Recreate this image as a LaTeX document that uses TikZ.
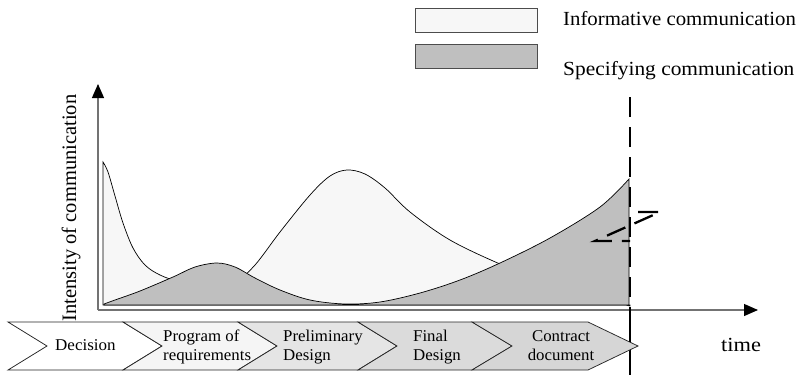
\documentclass[tikz,border=0pt]{standalone}
\usepackage{fontspec}
\setmainfont{Liberation Serif}
\usetikzlibrary{arrows.meta}
\newcommand{\widetext}[2]{\scalebox{#1}[1]{\begin{tabular}{@{}l@{}}#2\end{tabular}}}
\newcommand{\widectext}[2]{\scalebox{#1}[1]{\begin{tabular}{@{}c@{}}#2\end{tabular}}}
\tikzset{
  infofill/.style={fill=black!3, draw=black, line width=0.7pt},
  specfill/.style={fill=black!25, draw=black, line width=0.7pt},
  axisline/.style={draw=black!55, line width=1.2pt, -{Triangle[length=14pt,width=12pt,color=black]}},
  bigdash/.style={draw=black, line width=2.3pt, dash pattern=on 20pt off 10pt},
  phase/.style={draw=black!85, line width=0.75pt},
  phasetext/.style={font=\fontsize{16.5}{19.5}\selectfont, inner sep=0pt},
  bigtext/.style={font=\fontsize{20}{24}\selectfont, inner sep=0pt},
}
\begin{document}
\begin{tikzpicture}[x=1pt, y=-1pt]
\useasboundingbox (0,0) rectangle (806,375);

% informative communication
\path[infofill] (103,305) -- (103,162)
  -- plot[smooth, tension=0.55] coordinates {(103,162) (108,172) (115,196) (123,223) (133,248) (145,265) (160,275) (180,282) (210,288) (235,282) (255,265) (280,232) (310,195) (330,176) (347,170) (365,174) (385,188) (410,212) (450,240) (500,264) (560,288) (630,306)}
  -- (630,305) -- cycle;

% specifying communication
\path[specfill] (104,305)
  -- plot[smooth, tension=0.55] coordinates {(104,304) (115,300) (140,291) (173,277) (195,267) (217,263) (235,267) (255,278) (280,290) (310,300) (345,304) (380,302) (420,293) (460,280) (500,263) (550,238) (600,207) (629,179)}
  -- (629,305) -- cycle;

% axes
\coordinate (origin) at (98,310);
\coordinate (ytip) at (98,84);
\coordinate (xtip) at (758,310);
\draw[axisline] (origin) -- (ytip);
\draw[axisline] (origin) -- (xtip);

% milestone line and break mark
\coordinate (mtop) at (630,97);
\coordinate (mbot) at (630,375);
\draw[bigdash] (mtop) -- (mbot);
\draw[bigdash] (638,212) -- (660,212) -- (595,241) -- (630,241);

% phases
\path[phase, fill=white]    (8,322) -- (123,322) -- (162,346) -- (123,370) -- (8,370) -- (47,346) -- cycle;
\path[phase, fill=black!4]  (123,322) -- (238,322) -- (277,346) -- (238,370) -- (123,370) -- (162,346) -- cycle;
\path[phase, fill=black!10] (238,322) -- (358,322) -- (397,346) -- (358,370) -- (238,370) -- (277,346) -- cycle;
\path[phase, fill=black!14] (358,322) -- (472,322) -- (512,346) -- (472,370) -- (358,370) -- (397,346) -- cycle;
\path[phase, fill=black!16] (472,322) -- (588,322) -- (638,346) -- (588,370) -- (472,370) -- (512,346) -- cycle;
\draw[bigdash] (630,322) -- (630,375);

\node[phasetext, anchor=west] (p1) at (55,347) {\widetext{1.03}{Decision}};
\node[phasetext, anchor=west] (p2) at (163,347) {\widetext{1.02}{Program of\\requirements}};
\node[phasetext, anchor=west] (p3) at (283,347) {\widetext{1.02}{Preliminary\\Design}};
\node[phasetext, anchor=west] (p4) at (413,347) {\widetext{1.02}{Final\\Design}};
\node[phasetext] (p5) at (561,347) {\widectext{1.02}{Contract\\document}};

% labels
\node[bigtext, anchor=west] (time) at (721,345) {\scalebox{1.12}[1]{time}};
\node[bigtext, rotate=90] (ylab) at (71,208) {\fontsize{20.5}{24}\selectfont Intensity of communication};

% legend
\node[draw=black!70, fill=black!3, line width=0.8pt, minimum width=122pt, minimum height=24pt, inner sep=0pt] (leg1) at (476,20) {};
\node[draw=black!70, fill=black!25, line width=0.8pt, minimum width=122pt, minimum height=24pt, inner sep=0pt] (leg2) at (476,56) {};
\node[bigtext, anchor=west] (leg1t) at (563,19) {\scalebox{1.04}[1]{Informative communication}};
\node[bigtext, anchor=west] (leg2t) at (563,71) {\scalebox{1.07}[1]{Specifying communication}};
\end{tikzpicture}
\end{document}
